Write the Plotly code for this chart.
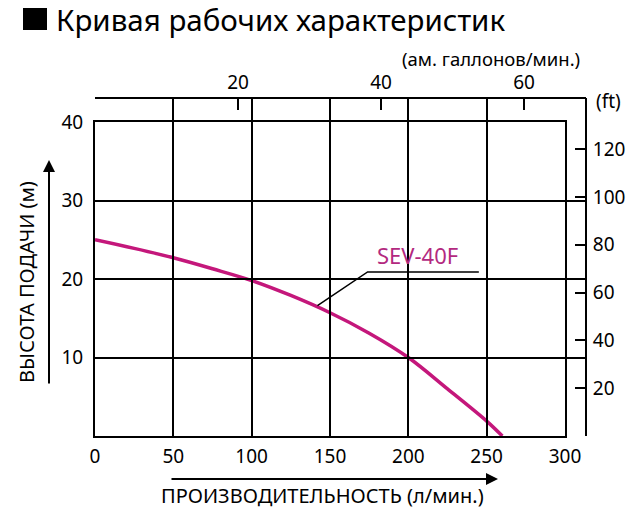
import plotly.graph_objects as go

# pump curve SEV-40F
flow_lpm = [0, 25, 50, 75, 100, 125, 150, 175, 200, 225, 250, 260]
head_m = [25.0, 23.9, 22.7, 21.3, 19.8, 17.9, 15.7, 13.1, 10.0, 6.0, 1.9, 0.0]

x_ticks = [0, 50, 100, 150, 200, 250, 300]
y_ticks = [10, 20, 30, 40]
gal_ticks = [20, 40, 60]
ft_ticks = [20, 40, 60, 80, 100, 120]

# the page body has an 8px margin, so the figure is a bit smaller than the window
OFF = 8
W, H = 640 - OFF, 514 - OFF
FONT = "Noto Sans"
MAG = "#c4177b"


def px(x):
    return (x - OFF) / W


def py(y):
    return 1 - (y - OFF) / H


fig = go.Figure()

fig.add_trace(go.Scatter(x=flow_lpm, y=head_m, mode="lines",
                         line=dict(color=MAG, width=3.5, shape="spline"),
                         showlegend=False, hoverinfo="skip"))
# dummy traces so the secondary axes get drawn
fig.add_trace(go.Scatter(x=[0], y=[0], xaxis="x2", yaxis="y", mode="markers",
                         marker=dict(opacity=0), showlegend=False, hoverinfo="skip"))
fig.add_trace(go.Scatter(x=[0], y=[0], xaxis="x", yaxis="y2", mode="markers",
                         marker=dict(opacity=0), showlegend=False, hoverinfo="skip"))

tick_font = dict(family=FONT, size=19, color="black")
title_font = dict(family=FONT, size=20, color="black")

fig.update_layout(
    width=W, height=H,
    margin=dict(l=0, r=0, t=0, b=0, pad=0),
    paper_bgcolor="white", plot_bgcolor="rgba(0,0,0,0)",
    font=dict(family=FONT, color="black"),
    xaxis=dict(domain=[px(95), px(565)], range=[0, 300], tickvals=x_ticks,
               showgrid=True, gridcolor="black", gridwidth=2,
               showline=True, linecolor="black", linewidth=2, mirror=True,
               zeroline=False, ticks="", tickfont=tick_font, ticklabelstandoff=2,
               automargin=False),
    yaxis=dict(domain=[py(436), py(122)], range=[0, 40], tickvals=y_ticks,
               showgrid=True, gridcolor="black", gridwidth=2,
               showline=True, linecolor="black", linewidth=2, mirror=True,
               zeroline=False, ticks="", tickfont=tick_font, ticklabelstandoff=6,
               automargin=False),
    xaxis2=dict(domain=[px(95), px(586)], range=[0, (586 - 95) / 7.15],
                anchor="free", position=py(98), side="top",
                tickvals=gal_ticks, ticks="inside", ticklen=11, tickwidth=2,
                tickcolor="black", showline=True, linecolor="black", linewidth=2,
                showgrid=False, zeroline=False, tickfont=tick_font,
                ticklabelstandoff=0, automargin=False),
    yaxis2=dict(domain=[py(436), py(98)], range=[0, (436 - 98) / 2.39],
                anchor="free", position=px(586), side="right",
                tickvals=ft_ticks, ticks="inside", ticklen=10, tickwidth=2,
                tickcolor="black", showline=True, linecolor="black", linewidth=2,
                showgrid=False, zeroline=False, tickfont=tick_font,
                ticklabelstandoff=2, automargin=False),
)

# title with the black square
fig.add_shape(type="rect", xref="paper", yref="paper",
              x0=px(23), x1=px(47), y0=py(30), y1=py(7),
              fillcolor="black", line=dict(width=0))
fig.add_annotation(text="Кривая рабочих характеристик", xref="paper", yref="paper",
                   x=px(55), y=py(20), xanchor="left", yanchor="middle",
                   showarrow=False, font=dict(family=FONT, size=29.5, color="black"),
                   borderpad=0)

fig.add_annotation(text="(ам. галлонов/мин.)", xref="paper", yref="paper",
                   x=px(491), y=py(59), xanchor="center", yanchor="middle",
                   showarrow=False, font=dict(family=FONT, size=18.5, color="black"),
                   borderpad=0)
fig.add_annotation(text="(ft)", xref="paper", yref="paper",
                   x=px(594), y=py(101), xanchor="left", yanchor="middle",
                   showarrow=False, font=tick_font)

# axis titles with arrows
fig.add_annotation(text="ВЫСОТА ПОДАЧИ (м)", xref="paper", yref="paper",
                   x=px(26), y=py(282), textangle=-90, showarrow=False,
                   xanchor="center", yanchor="middle", font=title_font)
fig.add_annotation(text="", xref="paper", yref="paper", x=px(49), y=py(160),
                   ax=0, ay=225, showarrow=True, arrowhead=2, arrowsize=1.2,
                   arrowwidth=2, arrowcolor="black")
fig.add_annotation(text="ПРОИЗВОДИТЕЛЬНОСТЬ (л/мин.)", xref="paper", yref="paper",
                   x=px(322), y=py(495), showarrow=False,
                   xanchor="center", yanchor="middle", font=title_font)
fig.add_annotation(text="", xref="paper", yref="paper", x=px(498), y=py(479),
                   ax=-328, ay=0, showarrow=True, arrowhead=2, arrowsize=1.2,
                   arrowwidth=2, arrowcolor="black")

# SEV-40F callout
fig.add_annotation(text="SEV-40F", x=206, y=23.0, showarrow=False,
                   xanchor="center", yanchor="middle",
                   font=dict(family=FONT, size=22, color="#b3297f"))
fig.add_shape(type="path", xref="x", yref="y",
              path="M 142,16.6 L 174,20.9 L 245,20.9",
              line=dict(color="black", width=1.5))

fig.write_html("out.html")
